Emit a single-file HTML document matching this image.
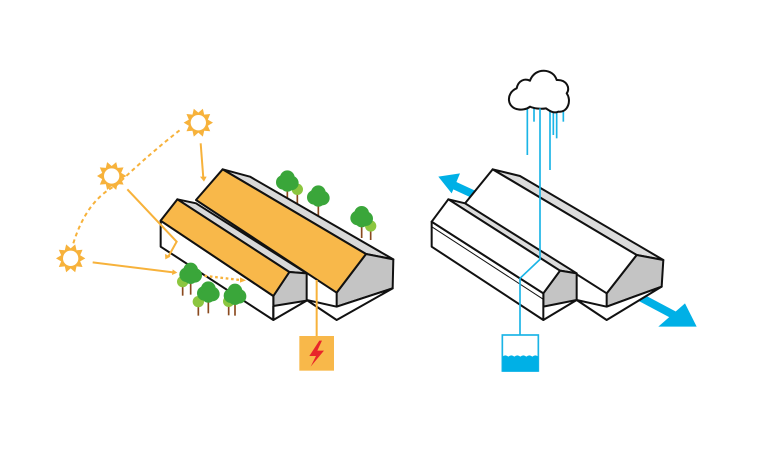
<!DOCTYPE html>
<html><head><meta charset="utf-8"><style>html,body{margin:0;padding:0;background:#fff}svg{display:block}</style></head>
<body>
<svg width="780" height="468" viewBox="0 0 780 468" xmlns="http://www.w3.org/2000/svg">
<defs>
<g id="sun">
<polygon fill="#f7b23b" points="44,0 28.5,9.3 35.6,25.9 17.6,24.3 13.6,41.8 0,30 -13.6,41.8 -17.6,24.3 -35.6,25.9 -28.5,9.3 -44,0 -28.5,-9.3 -35.6,-25.9 -17.6,-24.3 -13.6,-41.8 0,-30 13.6,-41.8 17.6,-24.3 35.6,-25.9 28.5,-9.3"/>
<circle r="23" fill="#fff"/>
</g>
<g id="tree">
<line x1="0" y1="10" x2="0" y2="62" stroke="#8a4a1e" stroke-width="5"/>
<circle cx="-12" cy="2" r="22" fill="#3aa63a"/>
<circle cx="12" cy="4" r="22" fill="#3aa63a"/>
<circle cx="0" cy="-12" r="22" fill="#3aa63a"/>
<circle cx="0" cy="10" r="20" fill="#3aa63a"/>
</g>
<g id="tree2">
<line x1="0" y1="5" x2="0" y2="42" stroke="#8a4a1e" stroke-width="5"/>
<circle cx="0" cy="0" r="17" fill="#8cc63f"/>
</g>
</defs>

<!-- LEFT DIAGRAM -->
<g transform="translate(40,100) scale(0.33333)">
  <path d="M100,430 Q140,300 230,255 Q330,160 420,90" fill="none" stroke="#f7b23b" stroke-width="6" stroke-dasharray="12,10"/>
  <use href="#sun" x="475" y="68"/>
  <use href="#sun" x="215" y="228"/>
  <use href="#sun" x="92" y="475"/>
  <use href="#tree2" x="772" y="268"/>
  <use href="#tree" x="742" y="245"/>
  <use href="#tree" x="835" y="290"/>
  <use href="#tree2" x="992" y="378"/>
  <use href="#tree" x="965" y="352"/>
  <polygon points="548,208 630,230 1060,478 978,462" fill="#d9d9d9" stroke="#111" stroke-width="6" stroke-linejoin="round"/>
  <polygon points="978,462 1060,478 1058,565 890,620 890,578" fill="#c4c4c4" stroke="#111" stroke-width="6" stroke-linejoin="round"/>
  <polygon points="890,620 1058,565 890,660 800,600" fill="#fff" stroke="#111" stroke-width="6" stroke-linejoin="round"/>
  <polygon points="548,208 978,462 890,578 468,300" fill="#f8b84a" stroke="#111" stroke-width="6" stroke-linejoin="round"/>
  <polygon points="412,298 468,310 800,520 748,516" fill="#d9d9d9" stroke="#111" stroke-width="6" stroke-linejoin="round"/>
  <polygon points="748,516 800,520 800,602 700,618 700,588" fill="#c4c4c4" stroke="#111" stroke-width="6" stroke-linejoin="round"/>
  <polygon points="362,362 700,588 700,660 362,440" fill="#fff" stroke="#111" stroke-width="6" stroke-linejoin="round"/>
  <line x1="700" y1="618" x2="700" y2="660" stroke="#111" stroke-width="6"/>
  <line x1="800" y1="602" x2="700" y2="660" stroke="#111" stroke-width="6"/>
  <polygon points="412,298 748,516 700,588 362,362" fill="#f8b84a" stroke="#111" stroke-width="6" stroke-linejoin="round"/>
  <g stroke="#f7b23b" stroke-width="6" fill="none">
    <line x1="482" y1="130" x2="490" y2="235"/>
    <polyline points="262,268 410,425 385,470"/>
    <line x1="158" y1="487" x2="400" y2="517"/>
    <line x1="430" y1="520" x2="600" y2="540" stroke-dasharray="8,8" stroke-width="7"/>
  </g>
  <g fill="#f7b23b">
    <polygon points="480,230 500,230 492,245"/>
    <polygon points="375,462 392,470 376,478"/>
    <polygon points="398,508 412,518 396,525"/>
    <polygon points="600,532 618,541 600,548"/>
  </g>
  <use href="#tree2" x="428" y="545"/>
  <use href="#tree" x="452" y="522"/>
  <use href="#tree2" x="475" y="605"/>
  <use href="#tree" x="505" y="578"/>
  <use href="#tree2" x="566" y="604"/>
  <use href="#tree" x="585" y="585"/>
  <line x1="830" y1="540" x2="830" y2="710" stroke="#f7b23b" stroke-width="6"/>
  <rect x="778" y="708" width="104" height="104" fill="#f8b84a"/>
  <polygon points="838,722 808,768 828,768 812,800 852,752 832,752 846,722" fill="#e8262a"/>
</g>

<!-- RIGHT DIAGRAM -->
<g transform="translate(420,60) scale(0.33333)">
  <g stroke="#1ab4e6" stroke-width="5">
    <line x1="322" y1="145" x2="322" y2="285"/>
    <line x1="342" y1="145" x2="342" y2="185"/>
    <line x1="390" y1="150" x2="390" y2="330"/>
    <line x1="400" y1="150" x2="400" y2="225"/>
    <line x1="410" y1="150" x2="410" y2="235"/>
    <line x1="430" y1="150" x2="430" y2="185"/>
  </g>
  <path d="M295,148 C262,145 255,100 290,85 C295,60 315,55 330,62 C345,20 400,25 410,60 C440,58 452,85 440,100 C455,120 445,158 415,155 C400,162 385,150 378,145 C360,148 340,145 330,140 C320,148 305,150 295,148 Z" fill="#fff" stroke="#111" stroke-width="6" stroke-linejoin="round"/>
  <g fill="#00b0e6">
    <line x1="165" y1="405" x2="100" y2="375" stroke="#00b0e6" stroke-width="24"/>
    <polygon points="55,350 120,340 95,400"/>
    <line x1="620" y1="690" x2="780" y2="775" stroke="#00b0e6" stroke-width="24"/>
    <polygon points="830,800 795,730 715,800"/>
  </g>
  <polygon points="218,328 300,348 730,600 650,585" fill="#dcdcdc" stroke="#111" stroke-width="6" stroke-linejoin="round"/>
  <polygon points="650,585 730,600 725,680 560,740 560,700" fill="#c4c4c4" stroke="#111" stroke-width="6" stroke-linejoin="round"/>
  <polygon points="560,740 725,680 560,780 470,720" fill="#fff" stroke="#111" stroke-width="6" stroke-linejoin="round"/>
  <polygon points="218,328 650,585 560,700 135,430" fill="#fff" stroke="#111" stroke-width="6" stroke-linejoin="round"/>
  <polygon points="85,418 135,430 470,640 420,632" fill="#dcdcdc" stroke="#111" stroke-width="6" stroke-linejoin="round"/>
  <polygon points="420,632 470,640 470,720 370,740 370,700" fill="#c4c4c4" stroke="#111" stroke-width="6" stroke-linejoin="round"/>
  <polygon points="35,485 370,700 370,780 35,560" fill="#fff" stroke="#111" stroke-width="6" stroke-linejoin="round"/>
  <line x1="470" y1="720" x2="370" y2="780" stroke="#111" stroke-width="6"/>
  <polygon points="85,418 420,632 370,700 35,485" fill="#fff" stroke="#111" stroke-width="6" stroke-linejoin="round"/>
  <line x1="35" y1="500" x2="370" y2="718" stroke="#111" stroke-width="3"/>
  <polyline points="360,145 360,598 300,655 300,825" fill="none" stroke="#1ab4e6" stroke-width="5"/>
  <rect x="247" y="825" width="108" height="108" fill="#fff" stroke="#1ab4e6" stroke-width="5"/>
  <path d="M247,890 q9,-8 18,0 q9,-8 18,0 q9,-8 18,0 q9,-8 18,0 q9,-8 18,0 q9,-8 18,0 L355,935 L247,935 Z" fill="#00b0e6"/>
</g>
</svg>
</body></html>
